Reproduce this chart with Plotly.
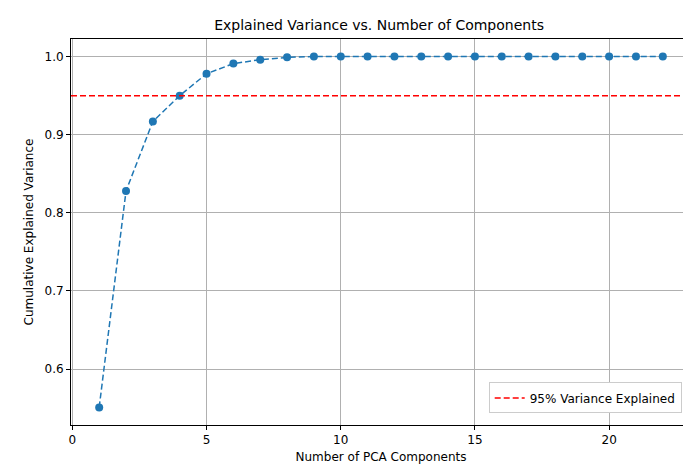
import plotly.graph_objects as go

components = list(range(1, 23))
cum_variance = [0.551, 0.828, 0.917, 0.950, 0.978, 0.991, 0.996, 0.999,
                1.0, 1.0, 1.0, 1.0, 1.0, 1.0, 1.0, 1.0, 1.0, 1.0, 1.0, 1.0, 1.0, 1.0]
threshold = 0.95

fig = go.Figure()
fig.add_trace(go.Scatter(
    x=components, y=cum_variance, mode="lines+markers",
    line=dict(color="#1f77b4", dash="6px,3px", width=1.5),
    marker=dict(size=8, color="#1f77b4"),
    showlegend=False,
))
fig.add_trace(go.Scatter(
    x=[-0.05, 23.05], y=[threshold, threshold], mode="lines",
    line=dict(color="red", dash="6px,3px", width=1.5),
    name="95% Variance Explained",
))

axis_style = dict(
    showgrid=True, gridcolor="#b0b0b0", gridwidth=1,
    showline=True, linecolor="black", mirror=True,
    ticks="outside", ticklen=4, tickcolor="black",
    zeroline=False, tickfont=dict(size=12, color="black"),
    automargin=False,
)
fig.update_xaxes(range=[-0.05, 23.05], tickvals=[0, 5, 10, 15, 20],
                 title=dict(text="Number of PCA Components", font=dict(size=12), standoff=6),
                 **axis_style)
fig.update_yaxes(range=[0.5285, 1.0225], tickvals=[0.6, 0.7, 0.8, 0.9, 1.0],
                 tickformat=".1f",
                 title=dict(text="Cumulative Explained Variance", font=dict(size=12), standoff=8),
                 **axis_style)

fig.update_layout(
    width=691, height=470,
    margin=dict(l=63, r=8, t=31, b=53),
    paper_bgcolor="white", plot_bgcolor="white",
    font=dict(family="DejaVu Sans", color="black"),
    title=dict(text="Explained Variance vs. Number of Components",
               x=0.537, xanchor="center", y=0.964, yanchor="middle",
               font=dict(size=14)),
    legend=dict(x=0.985, y=0.03, xanchor="right", yanchor="bottom",
                bordercolor="#cccccc", borderwidth=1, bgcolor="white",
                font=dict(size=12)),
)

fig.write_html("out.html")
